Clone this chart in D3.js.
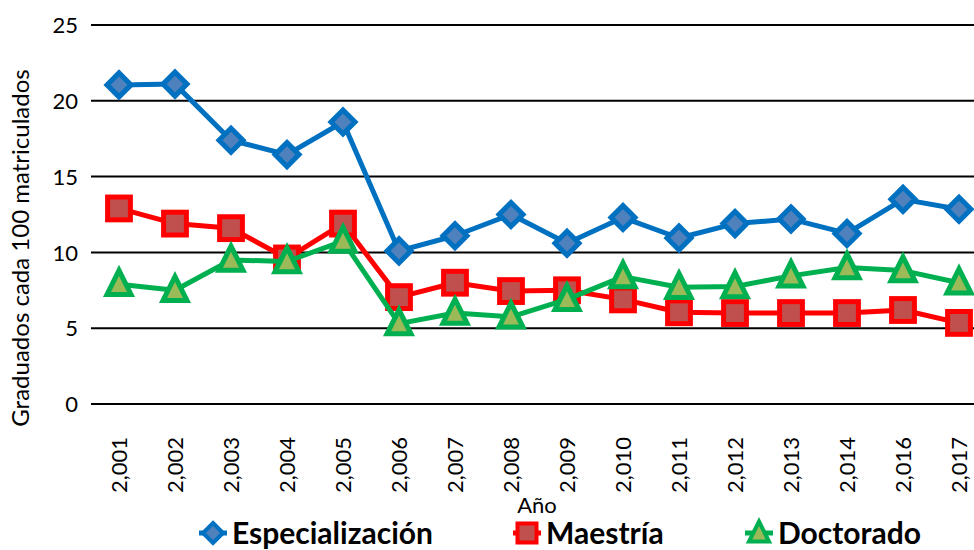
<!DOCTYPE html>
<html>
<head>
<meta charset="utf-8">
<script src="https://cdn.jsdelivr.net/npm/d3@7/dist/d3.min.js"></script>
<style>
  body { margin: 0; background: #fff; }
  text { font-family: Lato, "Open Sans", sans-serif; fill: #000; }
</style>
</head>
<body>
<script>
// graduados cada 100 matriculados, por nivel
const width = 974, height = 550

const years = [2001, 2002, 2003, 2004, 2005, 2006, 2007, 2008, 2009, 2010, 2011, 2012, 2013, 2014, 2016, 2017]

const especializacion = [21.05, 21.1, 17.4, 16.45, 18.6, 10.1, 11.1, 12.5, 10.6, 12.3, 10.95, 11.9, 12.2, 11.25, 13.5, 12.85]
const maestria = [12.9, 11.9, 11.6, 9.6, 11.9, 7.05, 8.0, 7.45, 7.5, 6.9, 6.05, 6.0, 6.0, 6.0, 6.2, 5.35]
const doctorado = [7.9, 7.5, 9.5, 9.4, 10.75, 5.3, 6.0, 5.75, 6.9, 8.4, 7.7, 7.75, 8.45, 9.0, 8.8, 8.0]

const yTicks = [0, 5, 10, 15, 20, 25]

const series = [
  { name: "Especialización", values: especializacion, line: "#0070C0", fill: "#4F81BD", shape: "diamond" },
  { name: "Maestría", values: maestria, line: "#FF0000", fill: "#C0504D", shape: "square" },
  { name: "Doctorado", values: doctorado, line: "#00B050", fill: "#9BBB59", shape: "triangle" }
]

const x = d3.scaleBand()
    .domain(years)
    .range([91, 987])

const y = d3.scaleLinear()
    .domain([0, 25])
    .range([404, 25])

const svg = d3.select("body")
    .append("svg")
      .attr("width", width)
      .attr("height", height)

// gridlines
svg.append("g")
    .attr("class", "grid")
  .selectAll("line")
    .data(yTicks)
    .enter()
    .append("line")
      .attr("x1", 91)
      .attr("x2", width)
      .attr("y1", function(d){ return y(d) })
      .attr("y2", function(d){ return y(d) })
      .style("stroke", "#000")
      .style("stroke-width", 2)

const yAxis = svg.append("g")
    .attr("transform", "translate(78, 0)")
    .call(d3.axisLeft(y).tickValues(yTicks).tickSize(0).tickPadding(0))
yAxis.select(".domain").remove()
yAxis.selectAll("text")
    .style("font-size", "22px")
    .attr("dy", "0.35em")

const fmt = d3.format(",")
const xAxis = svg.append("g")
    .attr("transform", "translate(0, 437)")
    .call(d3.axisBottom(x).tickSize(0).tickPadding(0).tickFormat(function(d){ return fmt(d) }))
xAxis.select(".domain").remove()
xAxis.selectAll("text")
    .style("font-size", "22px")
    .attr("text-anchor", "end")
    .attr("transform", "rotate(-90)")
    .attr("x", 0)
    .attr("y", 0)
    .attr("dy", "0.36em")

svg.append("text")
    .attr("transform", "translate(29, 248) rotate(-90)")
    .attr("text-anchor", "middle")
    .style("font-size", "24px")
    .text("Graduados cada 100 matriculados")

svg.append("text")
    .attr("x", 537)
    .attr("y", 513)
    .attr("text-anchor", "middle")
    .style("font-size", "22px")
    .text("Año")

const line = d3.line()
    .x(function(d, i){ return x(years[i]) + x.bandwidth() / 2 })
    .y(function(d){ return y(d) })

function marker(sel, shape, s) {
  if (shape === "diamond") {
    sel.append("path").attr("d", "M0," + (-s) + "L" + s + ",0L0," + s + "L" + (-s) + ",0Z")
  } else if (shape === "square") {
    sel.append("rect").attr("x", -s * 0.95).attr("y", -s * 0.95).attr("width", s * 1.9).attr("height", s * 1.9)
  } else {
    sel.append("path").attr("d", "M0," + (-s * 1.15) + "L" + (s * 1.0) + "," + (s * 0.85) + "L" + (-s * 1.0) + "," + (s * 0.85) + "Z")
  }
}

series.forEach(function(s){
  const g = svg.append("g").attr("class", "series")
  g.append("path")
      .datum(s.values)
      .attr("d", line)
      .style("fill", "none")
      .style("stroke", s.line)
      .style("stroke-width", 5)
      .style("stroke-linejoin", "round")

  g.selectAll(".pt")
      .data(s.values)
      .enter()
      .append("g")
        .attr("class", "pt")
        .attr("transform", function(d, i){
          return "translate(" + (x(years[i]) + x.bandwidth() / 2) + "," + y(d) + ")"
        })
        .each(function(){ marker(d3.select(this), s.shape, 12) })
        .selectAll("path, rect")
          .style("fill", s.fill)
          .style("stroke", s.line)
          .style("stroke-width", 5)
          .style("stroke-linejoin", "miter")
})

// legend
const legendX = [213, 527, 759]
const legend = svg.selectAll(".legend")
    .data(series)
    .enter()
    .append("g")
      .attr("class", "legend")
      .attr("transform", function(d, i){ return "translate(" + legendX[i] + ", 533)" })

legend.append("line")
    .attr("x1", -14)
    .attr("x2", 14)
    .style("stroke", function(d){ return d.line })
    .style("stroke-width", 5)

legend.each(function(d){ marker(d3.select(this), d.shape, 10) })
legend.selectAll("path, rect")
    .style("fill", function(){ return d3.select(this.parentNode).datum().fill })
    .style("stroke", function(){ return d3.select(this.parentNode).datum().line })
    .style("stroke-width", 4)

legend.append("text")
    .attr("x", 19)
    .attr("dy", "0.36em")
    .style("font-size", "30px")
    .style("font-weight", "bold")
    .text(function(d){ return d.name })
</script>
</body>
</html>
